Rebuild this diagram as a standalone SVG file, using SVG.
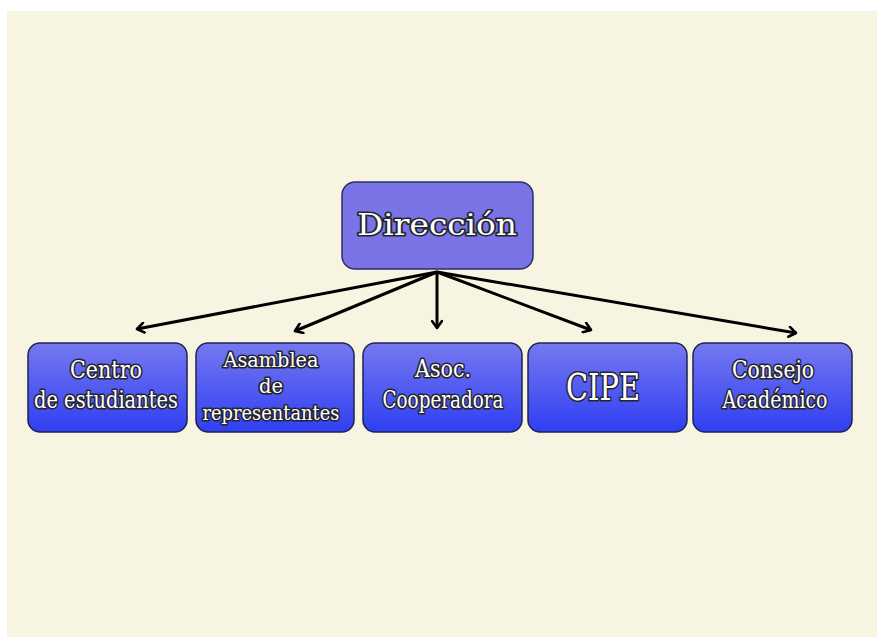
<svg xmlns="http://www.w3.org/2000/svg" width="877" height="637" viewBox="0 0 877 637">
<defs>
<style>
.t{font-family:"DejaVu Serif Condensed","DejaVu Serif",serif;font-stretch:condensed;fill:#fff;stroke:#25252f;stroke-width:3.2;stroke-linejoin:round;paint-order:stroke;text-anchor:middle;font-weight:normal}
.box{fill:url(#g);stroke:#1e2350;stroke-width:1.5}
.c{stroke:#000;stroke-width:3;fill:none;marker-end:url(#ah)}
</style>
<linearGradient id="g" x1="0" y1="0" x2="0" y2="1">
<stop offset="0" stop-color="#7678f0"/>
<stop offset="1" stop-color="#2f3ff2"/>
</linearGradient>
<marker id="ah" viewBox="0 0 12 12" refX="10" refY="6" markerWidth="12" markerHeight="12" markerUnits="userSpaceOnUse" orient="auto">
<polyline points="3,1 10,6 3,11" fill="none" stroke="#000" stroke-width="2.6" stroke-linecap="round" stroke-linejoin="round"/>
</marker>
</defs>
<rect x="0" y="0" width="877" height="637" fill="#ffffff"/>
<rect x="7" y="11" width="870" height="626" fill="#f7f5e1"/>
<g id="connectors">
<path class="c" d="M437 272 L137 329"/>
<path class="c" d="M437 272 L295 331"/>
<path class="c" d="M437 272 L437 328"/>
<path class="c" d="M437 272 L591 330"/>
<path class="c" d="M437 272 L796 333"/>
</g>
<g id="direccion">
<rect x="342" y="182" width="191" height="87" rx="13" fill="#7a73e6" stroke="#2a2f66" stroke-width="1.5"/>
<text class="t" x="437" y="235" font-size="30" textLength="160" lengthAdjust="spacingAndGlyphs">Dirección</text>
</g>
<g id="centro">
<rect class="box" x="28" y="343" width="159" height="89" rx="12"/>
<text class="t" x="106" y="378" font-size="24" textLength="72" lengthAdjust="spacingAndGlyphs">Centro</text>
<text class="t" x="106" y="408" font-size="24" textLength="144" lengthAdjust="spacingAndGlyphs">de estudiantes</text>
</g>
<g id="asamblea">
<rect class="box" x="196" y="343" width="158" height="89" rx="12"/>
<text class="t" x="271" y="367" font-size="20" textLength="95" lengthAdjust="spacingAndGlyphs">Asamblea</text>
<text class="t" x="271" y="393" font-size="20" textLength="24" lengthAdjust="spacingAndGlyphs">de</text>
<text class="t" x="271" y="420" font-size="20" textLength="137" lengthAdjust="spacingAndGlyphs">representantes</text>
</g>
<g id="asoc">
<rect class="box" x="363" y="343" width="159" height="89" rx="12"/>
<text class="t" x="443" y="377" font-size="24" textLength="56" lengthAdjust="spacingAndGlyphs">Asoc.</text>
<text class="t" x="443" y="408" font-size="24" textLength="121" lengthAdjust="spacingAndGlyphs">Cooperadora</text>
</g>
<g id="cipe">
<rect class="box" x="528" y="343" width="159" height="89" rx="12"/>
<text class="t" x="603" y="400" font-size="37" textLength="74" lengthAdjust="spacingAndGlyphs">CIPE</text>
</g>
<g id="consejo">
<rect class="box" x="693" y="343" width="159" height="89" rx="12"/>
<text class="t" x="773" y="378" font-size="24" textLength="82" lengthAdjust="spacingAndGlyphs">Consejo</text>
<text class="t" x="775" y="408" font-size="24" textLength="105" lengthAdjust="spacingAndGlyphs">Académico</text>
</g>
</svg>
